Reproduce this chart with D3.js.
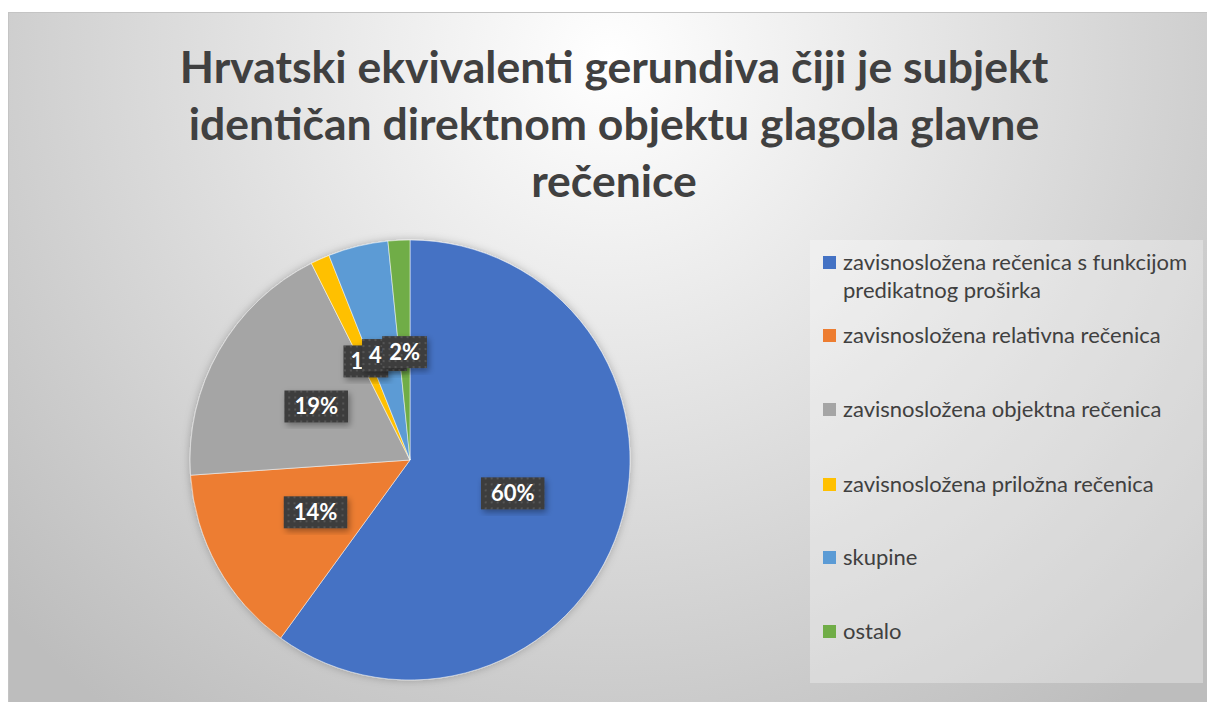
<!DOCTYPE html>
<html>
<head>
<meta charset="utf-8">
<script src="https://cdn.jsdelivr.net/npm/d3@7"></script>
<style>
  body { margin: 0; background: #fff; }
  text { font-family: Lato, "Open Sans", sans-serif; }
</style>
</head>
<body>
<div class="chart"></div>
<script>
// chart data
const categories = [
  "zavisnosložena rečenica s funkcijom predikatnog proširka",
  "zavisnosložena relativna rečenica",
  "zavisnosložena objektna rečenica",
  "zavisnosložena priložna rečenica",
  "skupine",
  "ostalo"
];
const values = [60.0, 13.9, 18.7, 1.4, 4.4, 1.6];
const colors = ["#4472C4", "#ED7D31", "#A5A5A5", "#FFC000", "#5B9BD5", "#70AD47"];
const titleLines = [
  "Hrvatski ekvivalenti gerundiva čiji je subjekt",
  "identičan direktnom objektu glagola glavne",
  "rečenice"
];

const W = 1207, H = 702;
const svg = d3.select(".chart").append("svg")
    .attr("width", W)
    .attr("height", H);

const defs = svg.append("defs");

// background gradient of the chart area
const bg = defs.append("radialGradient")
    .attr("id", "bg")
    .attr("gradientUnits", "userSpaceOnUse")
    .attr("cx", 610).attr("cy", 60).attr("r", 820);
bg.append("stop").attr("offset", "0%").attr("stop-color", "#ffffff");
bg.append("stop").attr("offset", "100%").attr("stop-color", "#bdbdbd");

// dotted texture for data labels
const pat = defs.append("pattern")
    .attr("id", "dots")
    .attr("patternUnits", "userSpaceOnUse")
    .attr("width", 6).attr("height", 6);
pat.append("rect").attr("width", 6).attr("height", 6).attr("fill", "#3d3d3d");
pat.append("rect").attr("x", 2).attr("y", 2).attr("width", 2).attr("height", 2).attr("fill", "#555555");

const shadow = defs.append("filter").attr("id", "shadow")
    .attr("x", "-20%").attr("y", "-20%").attr("width", "140%").attr("height", "140%");
shadow.append("feDropShadow")
    .attr("dx", 2).attr("dy", 3).attr("stdDeviation", 3)
    .attr("flood-color", "#000").attr("flood-opacity", 0.35);

const pieShadow = defs.append("filter").attr("id", "pieShadow")
    .attr("x", "-10%").attr("y", "-10%").attr("width", "120%").attr("height", "120%");
pieShadow.append("feDropShadow")
    .attr("dx", 0).attr("dy", 0).attr("stdDeviation", 4)
    .attr("flood-color", "#000").attr("flood-opacity", 0.25);

// chart area
svg.append("rect")
    .attr("x", 8.5).attr("y", 12.5)
    .attr("width", W - 8).attr("height", H - 12)
    .attr("fill", "url(#bg)")
    .attr("stroke", "#c4c4c4");

// title
svg.append("g")
  .selectAll("text")
  .data(titleLines)
  .join("text")
    .attr("x", 614)
    .attr("y", (d, i) => 83 + i * 57)
    .attr("text-anchor", "middle")
    .attr("font-size", 44.5)
    .attr("font-weight", 700)
    .attr("fill", "#404040")
    .text(d => d);

// pie
const cx = 410, cy = 460, R = 220;
const pie = d3.pie().sort(null).value(d => d)(values);
const arc = d3.arc().innerRadius(0).outerRadius(R);
const labelArc = d3.arc().innerRadius(108).outerRadius(108);
const total = d3.sum(values);

const g = svg.append("g").attr("transform", `translate(${cx},${cy})`);
g.append("g")
    .attr("filter", "url(#pieShadow)")
  .selectAll("path")
  .data(pie)
  .join("path")
    .attr("d", arc)
    .attr("fill", (d, i) => colors[i])
    .attr("stroke", "#fff")
    .attr("stroke-width", 0.5);

// data labels (small slices overlap, later boxes cover earlier ones)
const labels = g.append("g")
  .selectAll("g")
  .data(pie)
  .join("g")
    .attr("transform", d => `translate(${labelArc.centroid(d)})`);

labels.each(function(d) {
  const lg = d3.select(this);
  const box = lg.append("rect").attr("fill", "url(#dots)").attr("filter", "url(#shadow)");
  const t = lg.append("text")
      .attr("text-anchor", "middle")
      .attr("dy", "0.36em")
      .attr("font-size", 22)
      .attr("font-weight", 700)
      .attr("fill", "#ffffff")
      .text(d3.format(".0%")(d.value / total));
  const w = t.node().getComputedTextLength() + (d.value < 10 ? 14 : 20);
  box.attr("x", -w / 2).attr("y", -16).attr("width", w).attr("height", 32);
});

// legend
const lx = 810, ly = 240;
svg.append("rect")
    .attr("x", lx).attr("y", ly)
    .attr("width", 393).attr("height", 443)
    .attr("fill", "#ffffff").attr("fill-opacity", 0.3);

const legendY = [262, 335, 409, 484, 557, 631];
const legend = svg.append("g")
  .selectAll("g")
  .data(categories)
  .join("g")
    .attr("transform", (d, i) => `translate(${lx + 13},${legendY[i]})`);

legend.append("rect")
    .attr("y", -6).attr("width", 13).attr("height", 13)
    .attr("fill", (d, i) => colors[i]);

legend.each(function(d) {
  const t = d3.select(this).append("text")
      .attr("x", 20)
      .attr("font-size", 22)
      .attr("fill", "#404040");
  // wrap long names
  const words = d.split(" ");
  let line = [];
  let ts = t.append("tspan").attr("x", 20).attr("dy", "0.35em");
  for (const w of words) {
    line.push(w);
    ts.text(line.join(" "));
    if (ts.node().getComputedTextLength() > 360 && line.length > 1) {
      line.pop();
      ts.text(line.join(" "));
      line = [w];
      ts = t.append("tspan").attr("x", 20).attr("dy", "1.3em").text(w);
    }
  }
});
</script>
</body>
</html>
